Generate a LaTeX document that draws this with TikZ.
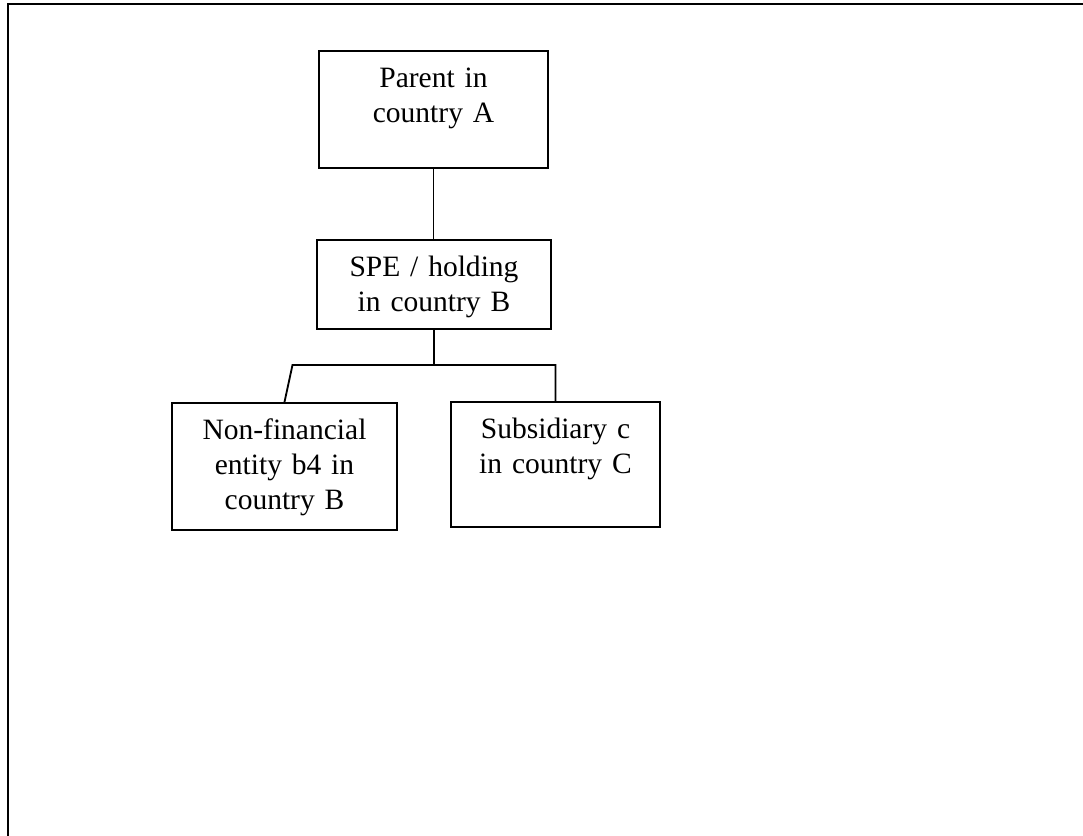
\documentclass[tikz,border=0pt]{standalone}
\usepackage{fontspec}
\setmainfont{Liberation Serif}
\usetikzlibrary{positioning}

\begin{document}
\begin{tikzpicture}[entity/.style={draw,line width=1.3pt,anchor=north,align=center,inner xsep=0pt,inner ysep=0pt,text height=0.925cm,font=\fontsize{21pt}{24.9pt}\selectfont}]
\useasboundingbox (0,0) rectangle (27.075,-20.9);
\draw[line width=1.5pt] (27.075,-0.1) -- (0.2,-0.1) -- (0.2,-20.9);

\node[entity,text width=5.725cm,text depth=2cm] (parent) at (10.8375,-1.25) {Parent in\\country A};
\node[entity,text width=5.85cm,text depth=1.3cm] (spe) at (10.85,-5.975) {SPE / holding\\in country B};
\node[entity,text width=5.625cm,text depth=2.25cm] (nonfin) at (7.1125,-10.05) {Non-financial\\entity b4 in\\country B};
\node[entity,text width=5.225cm,text depth=2.2cm] (subsid) at (13.8875,-10.025) {Subsidiary c\\in country C};

\draw[line width=1.3pt] (parent.south) -- (parent.south |- spe.north);
\coordinate[below=0.875cm of spe.south] (split);
\draw[line width=1.8pt] (spe.south) -- (split);
\draw[line width=1.3pt] (nonfin.north) -- ++(0.2,0.925) -| (subsid.north);

\end{tikzpicture}
\end{document}
